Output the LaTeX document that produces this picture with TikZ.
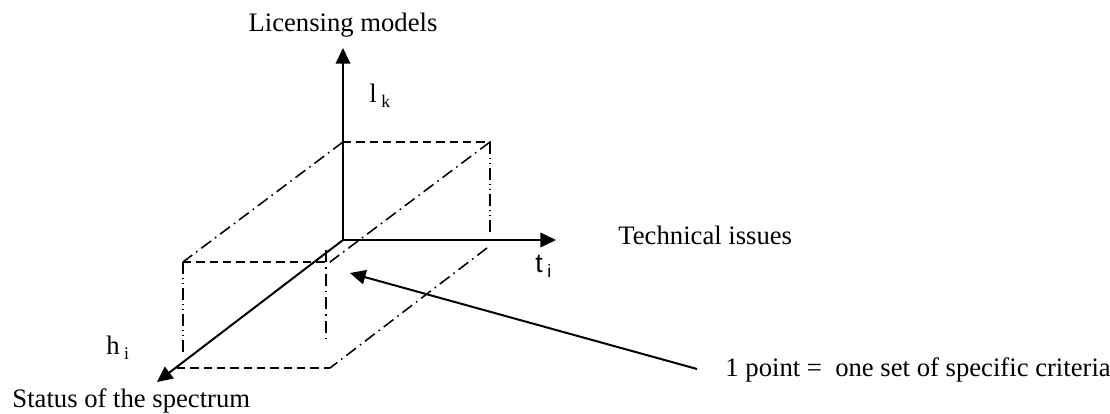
\documentclass[tikz,border=0pt]{standalone}
\usepackage{fontspec}
\setmainfont{Liberation Serif}
\setsansfont{Liberation Sans}
\usetikzlibrary{arrows.meta}

\newcommand{\lowidx}[1]{\,\raisebox{-2.2pt}{\fontsize{8}{8}\selectfont #1}}

\begin{document}
\begin{tikzpicture}[x=0.45pt,y=-0.45pt,>={Triangle[length=7pt,width=6.5pt]},
		axis/.style={->,line width=0.9pt},
		boxdash/.style={line width=0.7pt,dash pattern=on 3.8pt off 2.2pt},
		boxdot/.style={line width=0.7pt,dash pattern=on 5.5pt off 2.2pt on 0.7pt off 2.2pt},
		boxdotdot/.style={line width=0.7pt,dash pattern=on 5.5pt off 1.6pt on 0.7pt off 1.6pt on 0.7pt off 1.6pt},
		lbl/.style={font=\fontsize{12}{14}\selectfont,inner sep=0pt,anchor=base west}]
	\useasboundingbox (0,0) rectangle (1110,414);

	% axes
	\coordinate (O) at (343,240);
	\coordinate (L) at (343,48);
	\coordinate (T) at (556,240);
	\coordinate (H) at (157,382);

	% corners of the box
	\coordinate (B1) at (343,142);
	\coordinate (B2) at (490,142);
	\coordinate (B3) at (490,235);
	\coordinate (B4) at (487,248);
	\coordinate (F1) at (183,262);
	\coordinate (F2) at (330,262);
	\coordinate (F3) at (183,352);
	\coordinate (F4) at (326,250);
	\coordinate (F5) at (326,340);
	\coordinate (F6) at (177,368);
	\coordinate (F7) at (330,368);

	\draw[boxdash] (B1) -- (B2);
	\draw[boxdotdot] (B2) -- (B3);
	\draw[boxdot] (B1) -- (F1);
	\draw[boxdot] (B2) -- (F2);
	\draw[boxdot] (B4) -- (F7);
	\draw[boxdash] (F1) -- (F2);
	\draw[boxdotdot] (F1) -- (F3);
	\draw[boxdot] (F4) -- (F5);
	\draw[boxdash] (F6) -- (F7);

	\draw[axis] (O) -- (L);
	\draw[axis] (O) -- (T);
	\draw[axis] (O) -- (H);

	% labels
	\node[lbl,anchor=base] (lic) at (343,32) {Licensing models};
	\node[lbl] (lk) at (369,103) {l\lowidx{k}};
	\node[lbl] (tech) at (618,245) {Technical issues};
	\node[lbl,font=\sffamily\fontsize{12}{14}\selectfont] (ti) at (535,273) {t\lowidx{i}};
	\node[lbl] (hi) at (106,355) {h\lowidx{i}};
	\node[lbl] (stat) at (12,408) {Status of the spectrum};
	\node[lbl] (crit) at (725,377) {1 point =\ \ one set of specific criteria};

	% pointer to one point
	\coordinate (tail) at (697,369);
	\coordinate (pt) at (350,273);
	\draw[->,line width=0.9pt] (tail) -- (pt);
\end{tikzpicture}
\end{document}
